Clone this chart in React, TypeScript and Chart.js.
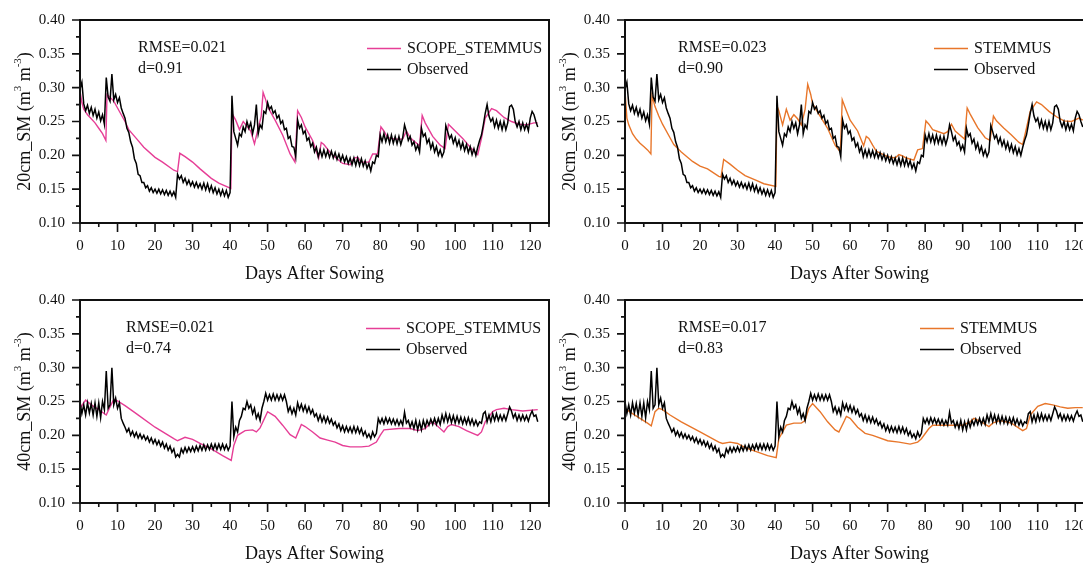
import React, { useEffect, useRef } from "react";
import { Chart, registerables } from "chart.js";

Chart.register(...registerables);

const SERIF = '"Liberation Serif", "Times New Roman", serif';
const PINK = "#e63e96";
const ORANGE = "#e8762a";
const INK = "#111111";

// Logger readings are stored every half day, starting at day 0.
const OBS_STEP = 0.5;

// Observed soil moisture at 20 cm (m3 m-3), two readings per day
const observed20 = [
  0.298, 0.308, 0.276, 0.266, 0.274, 0.262, 0.271, 0.259, 0.268, 0.255,
  0.264, 0.251, 0.26, 0.246, 0.315, 0.286, 0.28, 0.32, 0.282, 0.29,
  0.278, 0.285, 0.27, 0.262, 0.255, 0.24, 0.234, 0.22, 0.212, 0.195,
  0.188, 0.172, 0.17, 0.16, 0.16, 0.152, 0.155, 0.147, 0.152, 0.145,
  0.15, 0.144, 0.15, 0.143, 0.149, 0.142, 0.148, 0.141, 0.147, 0.14,
  0.146, 0.138, 0.172, 0.165, 0.17, 0.16, 0.166, 0.157, 0.163, 0.155,
  0.161, 0.153, 0.16, 0.152, 0.158, 0.15, 0.159, 0.149, 0.158, 0.147,
  0.155, 0.145, 0.152, 0.143, 0.15, 0.141, 0.149, 0.14, 0.148, 0.138,
  0.145, 0.288, 0.235, 0.225, 0.215, 0.232, 0.228, 0.242, 0.235, 0.25,
  0.24, 0.248, 0.232, 0.245, 0.275, 0.232, 0.245, 0.24, 0.265, 0.262,
  0.278, 0.268, 0.272, 0.262, 0.266, 0.255, 0.259, 0.247, 0.251, 0.238,
  0.24, 0.225, 0.228, 0.213, 0.212, 0.198, 0.252, 0.24, 0.245, 0.232,
  0.236, 0.222, 0.226, 0.213, 0.218, 0.205, 0.212, 0.198, 0.208, 0.198,
  0.208, 0.198, 0.207, 0.197, 0.206, 0.196, 0.204, 0.194, 0.202, 0.192,
  0.2, 0.19, 0.198, 0.188, 0.196, 0.186, 0.196, 0.185, 0.196, 0.185,
  0.195, 0.184, 0.192, 0.181, 0.188, 0.177, 0.19, 0.188, 0.2, 0.198,
  0.23, 0.22, 0.232, 0.22, 0.23, 0.218, 0.23, 0.218, 0.228, 0.217,
  0.228, 0.216, 0.226, 0.245, 0.235, 0.222, 0.228, 0.215, 0.22, 0.208,
  0.215, 0.205, 0.24, 0.228, 0.232, 0.218, 0.224, 0.21, 0.218, 0.205,
  0.213, 0.2, 0.208, 0.198, 0.205, 0.244, 0.235, 0.225, 0.23, 0.218,
  0.226, 0.214, 0.222, 0.21, 0.219, 0.207, 0.216, 0.204, 0.213, 0.201,
  0.21, 0.2, 0.212, 0.222, 0.23, 0.245, 0.262, 0.275, 0.258, 0.25,
  0.255, 0.242, 0.252, 0.24, 0.25, 0.238, 0.25, 0.238, 0.248, 0.272,
  0.274, 0.268, 0.25, 0.242, 0.25, 0.238, 0.248, 0.238, 0.246, 0.236,
  0.255, 0.265, 0.26, 0.25, 0.242,
];

// Observed soil moisture at 40 cm (m3 m-3), two readings per day
const observed40 = [
  0.25, 0.232, 0.245, 0.23, 0.248, 0.233, 0.247, 0.23, 0.248, 0.228,
  0.248, 0.226, 0.25, 0.238, 0.295, 0.24, 0.245, 0.3, 0.245, 0.255,
  0.24, 0.248, 0.225, 0.218, 0.212, 0.205, 0.21, 0.2, 0.206, 0.198,
  0.204, 0.196, 0.202, 0.195, 0.2, 0.193, 0.198, 0.19, 0.196, 0.188,
  0.194, 0.186, 0.192, 0.184, 0.19, 0.181, 0.187, 0.178, 0.184, 0.175,
  0.18, 0.168, 0.172, 0.168, 0.18, 0.174, 0.182, 0.175, 0.182, 0.176,
  0.183, 0.176, 0.184, 0.177, 0.185, 0.178, 0.186, 0.178, 0.186, 0.179,
  0.187, 0.179, 0.187, 0.179, 0.187, 0.179, 0.187, 0.179, 0.186, 0.178,
  0.184, 0.25, 0.198, 0.212, 0.205, 0.222, 0.228, 0.24, 0.238, 0.25,
  0.24, 0.245, 0.232, 0.24, 0.225, 0.232, 0.222, 0.24, 0.25, 0.262,
  0.252, 0.26, 0.252, 0.261, 0.252, 0.26, 0.252, 0.26, 0.252, 0.26,
  0.25, 0.235, 0.242, 0.232, 0.24, 0.23, 0.248, 0.238, 0.246, 0.236,
  0.244, 0.234, 0.242, 0.232, 0.238, 0.228, 0.232, 0.222, 0.23, 0.22,
  0.228, 0.219, 0.227, 0.218, 0.224, 0.215, 0.22, 0.211, 0.217, 0.207,
  0.214, 0.205, 0.213, 0.205, 0.212, 0.204, 0.213, 0.204, 0.212, 0.203,
  0.21, 0.2, 0.206, 0.197, 0.202, 0.195, 0.205, 0.198, 0.203, 0.225,
  0.218, 0.225, 0.217, 0.226, 0.218, 0.225, 0.217, 0.224, 0.216, 0.223,
  0.215, 0.222, 0.215, 0.234, 0.218, 0.222, 0.212, 0.22, 0.21, 0.222,
  0.208, 0.22, 0.208, 0.222, 0.212, 0.222, 0.215, 0.224, 0.216, 0.225,
  0.216, 0.225, 0.216, 0.23, 0.22, 0.232, 0.22, 0.23, 0.219, 0.229,
  0.218, 0.228, 0.218, 0.227, 0.217, 0.226, 0.217, 0.226, 0.216, 0.224,
  0.215, 0.222, 0.214, 0.22, 0.218, 0.232, 0.235, 0.22, 0.23, 0.22,
  0.232, 0.222, 0.232, 0.222, 0.23, 0.222, 0.23, 0.222, 0.232, 0.242,
  0.236, 0.226, 0.232, 0.222, 0.23, 0.222, 0.23, 0.222, 0.229, 0.221,
  0.23, 0.236, 0.228, 0.23, 0.22,
];

// Simulated series as [day, soil moisture] pairs
const scopeStemmus20 = [
  [0, 0.295], [0.5, 0.278], [1, 0.268], [2, 0.26], [3, 0.254], [4, 0.248], [5, 0.24],
  [6, 0.232], [6.9, 0.222], [7.2, 0.29], [8, 0.286], [9, 0.28], [10, 0.27], [11, 0.26],
  [12, 0.25], [13, 0.238], [15, 0.225], [17, 0.212], [20, 0.197], [22, 0.19], [25, 0.178],
  [26, 0.176], [26.6, 0.203], [28, 0.198], [30, 0.19], [32, 0.18], [35, 0.166], [37, 0.159],
  [40.2, 0.151], [40.5, 0.262], [41.5, 0.252], [42.5, 0.238], [43.5, 0.25], [44.5, 0.243],
  [45.5, 0.236], [46.5, 0.217], [47.5, 0.24], [48.3, 0.258], [48.8, 0.293], [49.5, 0.282],
  [50, 0.272], [52, 0.252], [54, 0.23], [56, 0.202], [57.3, 0.19], [58, 0.266], [59, 0.256],
  [60, 0.242], [62, 0.222], [63.6, 0.196], [64.3, 0.219], [65, 0.216], [67, 0.202], [70, 0.188],
  [72, 0.186], [73, 0.196], [74, 0.197], [75, 0.19], [77, 0.19], [78, 0.202], [79.3, 0.202],
  [80.2, 0.242], [81, 0.236], [82, 0.226], [84, 0.224], [86, 0.224], [87, 0.236], [88, 0.226],
  [90.5, 0.214], [91.2, 0.259], [92, 0.248], [94, 0.228], [96, 0.215], [97.3, 0.21],
  [98.2, 0.246], [100, 0.236], [102, 0.225], [104, 0.212], [106, 0.201], [107, 0.225],
  [108, 0.255], [109.7, 0.269], [111, 0.266], [113, 0.256], [115, 0.25], [117, 0.246],
  [119, 0.245], [121, 0.248], [122, 0.248],
];

const stemmus20 = [
  [0, 0.295], [0.5, 0.255], [1, 0.245], [2, 0.232], [3, 0.224], [4, 0.218], [5, 0.213],
  [6, 0.208], [6.9, 0.202], [7.2, 0.288], [8, 0.272], [9, 0.258], [10, 0.246], [12, 0.226],
  [13, 0.216], [15, 0.205], [18, 0.191], [20, 0.184], [22, 0.18], [25, 0.169], [25.6, 0.168],
  [26.3, 0.194], [28, 0.187], [30, 0.178], [32, 0.17], [35, 0.163], [37, 0.158], [40.2, 0.154],
  [40.5, 0.273], [41, 0.266], [42, 0.245], [43, 0.268], [44, 0.252], [45, 0.26], [46, 0.254],
  [47, 0.245], [48, 0.268], [48.7, 0.305], [49.5, 0.29], [50, 0.276], [52, 0.258], [54, 0.24],
  [56, 0.215], [57.4, 0.205], [57.9, 0.282], [59, 0.266], [60, 0.252], [62, 0.236],
  [63.6, 0.214], [64.3, 0.228], [65, 0.225], [66, 0.215], [67, 0.206], [70, 0.198],
  [72, 0.196], [73, 0.201], [74, 0.199], [75, 0.196], [77, 0.193], [78, 0.208], [79.3, 0.21],
  [80.2, 0.251], [81, 0.246], [82, 0.238], [83, 0.236], [85, 0.232], [86, 0.235], [87, 0.246],
  [88, 0.236], [90.5, 0.224], [91.2, 0.27], [92, 0.261], [94, 0.241], [96, 0.226],
  [97.3, 0.222], [98.2, 0.258], [99, 0.251], [101, 0.24], [103, 0.23], [105, 0.219],
  [106, 0.216], [107, 0.24], [108, 0.265], [109.7, 0.279], [111, 0.275], [113, 0.265],
  [115, 0.257], [117, 0.251], [119, 0.25], [121, 0.255], [122, 0.252],
];

const scopeStemmus40 = [
  [0, 0.24], [1.5, 0.252], [3, 0.245], [5, 0.238], [7, 0.23], [8, 0.242], [9, 0.253],
  [10, 0.251], [12, 0.244], [15, 0.232], [20, 0.212], [25, 0.195], [26, 0.192], [28, 0.197],
  [30, 0.194], [32, 0.188], [35, 0.18], [38, 0.17], [40.3, 0.163], [41, 0.185], [42, 0.2],
  [44, 0.207], [46, 0.208], [47, 0.205], [48, 0.211], [50, 0.235], [52, 0.228], [54, 0.215],
  [56, 0.201], [57.5, 0.196], [59, 0.216], [60, 0.213], [62, 0.205], [64, 0.196], [66, 0.193],
  [68, 0.19], [70, 0.185], [72, 0.183], [75, 0.183], [77, 0.184], [79, 0.19], [80, 0.2],
  [81, 0.208], [85, 0.21], [88, 0.21], [90, 0.207], [92, 0.21], [93, 0.216], [94, 0.22],
  [96, 0.21], [97, 0.205], [98, 0.213], [99, 0.216], [101, 0.213], [103, 0.207], [106, 0.2],
  [107, 0.205], [108, 0.22], [110, 0.235], [111, 0.238], [113, 0.24], [115, 0.238],
  [118, 0.236], [122, 0.238],
];

const stemmus40 = [
  [0, 0.24], [2, 0.232], [4, 0.225], [6, 0.218], [7, 0.214], [8, 0.235], [9, 0.24],
  [10, 0.238], [12, 0.23], [15, 0.22], [20, 0.205], [25, 0.19], [26, 0.188], [28, 0.19],
  [30, 0.188], [32, 0.182], [35, 0.176], [38, 0.17], [40.3, 0.167], [41, 0.195], [42, 0.205],
  [43, 0.215], [45, 0.218], [47, 0.218], [48, 0.222], [49, 0.24], [50, 0.247], [52, 0.235],
  [54, 0.22], [56, 0.208], [57, 0.205], [58.5, 0.222], [59, 0.228], [60, 0.225], [62, 0.212],
  [64, 0.203], [66, 0.2], [70, 0.192], [73, 0.19], [76, 0.187], [78, 0.19], [79, 0.195],
  [81, 0.21], [82, 0.215], [88, 0.215], [90, 0.215], [92, 0.22], [93, 0.225], [95, 0.22],
  [97, 0.213], [98, 0.218], [100, 0.222], [103, 0.218], [106, 0.207], [107, 0.21],
  [108, 0.23], [110, 0.243], [112, 0.247], [114, 0.245], [116, 0.242], [118, 0.24],
  [120, 0.241], [122, 0.241],
];

// Axis extents
const X_MIN = 0;
const X_MAX = 125;
const X_STEP = 10;
const Y_MIN = 0.1;
const Y_MAX = 0.4;
const Y_STEP = 0.05;

type Panel = {
  id: string;
  left: number;
  top: number;
  depth: string;
  modelName: string;
  modelColor: string;
  model: number[][];
  observed: number[];
  rmse: string;
  dIndex: string;
  statsX: number;
  legendX: number;
};

const panels: Panel[] = [
  { id: "a", left: 0, top: 0, depth: "20cm", modelName: "SCOPE_STEMMUS", modelColor: PINK,
    model: scopeStemmus20, observed: observed20, rmse: "RMSE=0.021", dIndex: "d=0.91", statsX: 138, legendX: 367 },
  { id: "b", left: 545, top: 0, depth: "20cm", modelName: "STEMMUS", modelColor: ORANGE,
    model: stemmus20, observed: observed20, rmse: "RMSE=0.023", dIndex: "d=0.90", statsX: 133, legendX: 389 },
  { id: "c", left: 0, top: 280, depth: "40cm", modelName: "SCOPE_STEMMUS", modelColor: PINK,
    model: scopeStemmus40, observed: observed40, rmse: "RMSE=0.021", dIndex: "d=0.74", statsX: 126, legendX: 366 },
  { id: "d", left: 545, top: 280, depth: "40cm", modelName: "STEMMUS", modelColor: ORANGE,
    model: stemmus40, observed: observed40, rmse: "RMSE=0.017", dIndex: "d=0.83", statsX: 133, legendX: 375 },
];

const CANVAS_W = 560;
const CANVAS_H = 285;

function drawYTitle(ctx: CanvasRenderingContext2D, depth: string, cx: number, cy: number) {
  const parts = [
    { t: `${depth}_SM (m`, sup: false },
    { t: "3", sup: true },
    { t: " m", sup: false },
    { t: "-3", sup: true },
    { t: ")", sup: false },
  ];
  const mainFont = `18px ${SERIF}`;
  const supFont = `11px ${SERIF}`;
  let total = 0;
  const widths = parts.map((p) => {
    ctx.font = p.sup ? supFont : mainFont;
    const w = ctx.measureText(p.t).width;
    total += w;
    return w;
  });
  ctx.save();
  ctx.translate(cx, cy);
  ctx.rotate(-Math.PI / 2);
  ctx.fillStyle = INK;
  ctx.textBaseline = "alphabetic";
  ctx.textAlign = "left";
  let x = -total / 2;
  parts.forEach((p, i) => {
    ctx.font = p.sup ? supFont : mainFont;
    ctx.fillText(p.t, x, p.sup ? -3 : 6);
    x += widths[i];
  });
  ctx.restore();
}

function makeDecor(panel: Panel) {
  return {
    id: "panelDecor",
    afterDraw(chart: any) {
      const { ctx, chartArea } = chart;
      const { left, right, top, bottom } = chartArea;
      const xs = chart.scales.x;
      const ys = chart.scales.y;
      ctx.save();
      ctx.strokeStyle = INK;
      ctx.lineCap = "butt";

      // tick marks: majors from the scale, minors half-way between them
      ctx.lineWidth = 1.6;
      ctx.beginPath();
      xs.ticks.forEach((t: any) => {
        const px = xs.getPixelForValue(t.value);
        ctx.moveTo(px, bottom);
        ctx.lineTo(px, bottom + 9);
        const mv = t.value + X_STEP / 2;
        if (mv <= X_MAX) {
          const mp = xs.getPixelForValue(mv);
          ctx.moveTo(mp, bottom);
          ctx.lineTo(mp, bottom + 4);
        }
      });
      ys.ticks.forEach((t: any) => {
        const py = ys.getPixelForValue(t.value);
        ctx.moveTo(left, py);
        ctx.lineTo(left - 8, py);
        const mv = t.value + Y_STEP / 2;
        if (mv < Y_MAX) {
          const mp = ys.getPixelForValue(mv);
          ctx.moveTo(left, mp);
          ctx.lineTo(left - 4, mp);
        }
      });
      ctx.stroke();

      // plot frame
      ctx.lineWidth = 2;
      ctx.strokeRect(left, top, right - left, bottom - top);

      // y axis title with superscripts
      drawYTitle(ctx, panel.depth, 24, (top + bottom) / 2);

      // statistics
      ctx.fillStyle = INK;
      ctx.font = `16px ${SERIF}`;
      ctx.textAlign = "left";
      ctx.textBaseline = "middle";
      ctx.fillText(panel.rmse, panel.statsX, 47.5);
      ctx.fillText(panel.dIndex, panel.statsX, 68.5);

      // legend
      const rows = [
        { label: panel.modelName, color: panel.modelColor, y: 48.5 },
        { label: "Observed", color: "#000000", y: 69.5 },
      ];
      rows.forEach((r) => {
        ctx.strokeStyle = r.color;
        ctx.lineWidth = 1.5;
        ctx.beginPath();
        ctx.moveTo(panel.legendX, r.y);
        ctx.lineTo(panel.legendX + 34, r.y);
        ctx.stroke();
        ctx.fillText(r.label, panel.legendX + 40, r.y);
      });
      ctx.restore();
    },
  };
}

function PanelChart({ panel }: { panel: Panel }) {
  const ref = useRef<HTMLCanvasElement | null>(null);
  useEffect(() => {
    if (!ref.current) return;
    const obsPoints = panel.observed.map((v, i) => ({ x: i * OBS_STEP, y: v }));
    const modelPoints = panel.model.map(([x, y]) => ({ x, y }));
    const chart = new Chart(ref.current, {
      type: "line",
      data: {
        datasets: [
          {
            label: "Observed",
            data: obsPoints,
            borderColor: "#000000",
            borderWidth: 1.5,
            pointRadius: 0,
            tension: 0,
          },
          {
            label: panel.modelName,
            data: modelPoints,
            borderColor: panel.modelColor,
            borderWidth: 1.4,
            pointRadius: 0,
            tension: 0,
          },
        ],
      },
      options: {
        animation: false,
        responsive: false,
        devicePixelRatio: 1,
        events: [],
        layout: { padding: { top: 20, right: 11, left: 0, bottom: 0 } },
        plugins: { legend: { display: false }, tooltip: { enabled: false }, title: { display: false } },
        scales: {
          x: {
            type: "linear",
            min: X_MIN,
            max: X_MAX,
            grid: { display: false, drawTicks: true, tickLength: 9 },
            border: { display: false },
            ticks: {
              stepSize: X_STEP,
              includeBounds: false,
              autoSkip: false,
              maxRotation: 0,
              padding: 5,
              color: INK,
              font: { family: SERIF, size: 15 },
            },
            title: {
              display: true,
              text: "Days After Sowing",
              color: INK,
              font: { family: SERIF, size: 18, lineHeight: 1.2 },
              padding: { top: 0, bottom: 0 },
            },
            afterFit: (scale: any) => {
              scale.height = CANVAS_H - 223;
            },
          },
          y: {
            type: "linear",
            min: Y_MIN,
            max: Y_MAX,
            grid: { display: false, drawTicks: true, tickLength: 8 },
            border: { display: false },
            ticks: {
              stepSize: Y_STEP,
              autoSkip: false,
              padding: 7,
              color: INK,
              font: { family: SERIF, size: 15 },
              callback: (v: any) => Number(v).toFixed(2),
            },
            afterFit: (scale: any) => {
              scale.width = 80;
            },
          },
        },
      },
      plugins: [makeDecor(panel)],
    } as any);
    return () => chart.destroy();
  }, [panel]);

  return (
    <canvas
      ref={ref}
      width={CANVAS_W}
      height={CANVAS_H}
      style={{ position: "absolute", left: panel.left, top: panel.top, width: CANVAS_W, height: CANVAS_H }}
    />
  );
}

export default function App() {
  return (
    <div
      style={{
        position: "fixed",
        left: 0,
        top: 0,
        width: 1083,
        height: 565,
        overflow: "hidden",
        background: "#ffffff",
      }}
    >
      {panels.map((p) => (
        <PanelChart key={p.id} panel={p} />
      ))}
    </div>
  );
}
